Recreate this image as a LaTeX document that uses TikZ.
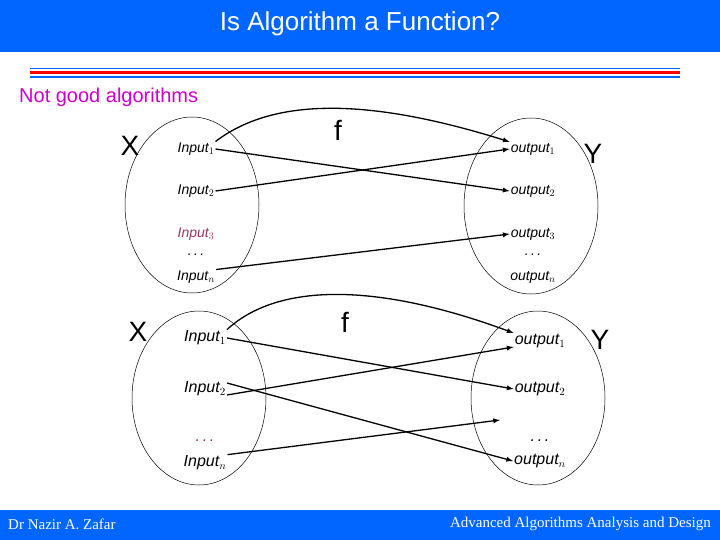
\documentclass[tikz,border=0pt]{standalone}
\usepackage{fontspec}
\setmainfont{Liberation Sans}
\newfontfamily\serif{Liberation Serif}
\definecolor{hdr}{RGB}{0,102,255}
\definecolor{mag}{RGB}{204,0,204}
\definecolor{plum}{RGB}{153,51,102}
\begin{document}
\begin{tikzpicture}[x=1pt,y=-1pt,
 lbl/.style={font=\fontsize{14}{16}\selectfont\itshape, inner sep=1pt},
 lblb/.style={font=\fontsize{16}{18}\selectfont\itshape, inner sep=1pt},
 big/.style={font=\fontsize{28}{30}\selectfont},
 set/.style={draw=black,line width=0.5pt},
 arr/.style={-latex,line width=1.3pt}]
\useasboundingbox (0,0) rectangle (720,540);
\fill[hdr] (0,0) rectangle (720,52);
\node[text=white,font=\fontsize{26}{28}\selectfont] (title) at (360,24) {Is Algorithm a Function?};
\draw[hdr,line width=1.5pt] (30,68.5) -- (680,68.5);
\draw[red,line width=2.5pt] (30,72.5) -- (680,72.5);
\draw[hdr,line width=1.5pt] (30,77) -- (680,77);
\node[text=mag,font=\fontsize{20}{22}\selectfont,anchor=west,inner sep=0] (ng) at (19,97) {Not good algorithms};
\fill[hdr] (0,510) rectangle (720,540);
\node[text=white,font=\serif\fontsize{15}{17}\selectfont,anchor=west,inner sep=0] (ft1) at (8,524) {Dr Nazir A. Zafar};
\node[text=white,font=\serif\fontsize{15}{17}\selectfont,anchor=east,inner sep=0] (ft2) at (711,524) {Advanced Algorithms Analysis and Design};
% top
\draw[set] (192,205) ellipse (67 and 88);
\draw[set] (531,206) ellipse (67 and 88);
\node[big] (X1) at (130,146) {X};
\node[big] (Y1) at (593,154) {Y};
\node[big] (f1) at (338,130) {f};
\node[lbl] (a1) at (196,149) {Input$_1$};
\node[lbl] (a2) at (196,191) {Input$_2$};
\node[lbl,text=plum] (a3) at (196,234) {Input$_3$};
\node[lbl] (ad) at (196,255) {.\,.\,.};
\node[lbl] (an) at (196,277) {Input$_n$};
\node[lbl] (b1) at (533,149) {output$_1$};
\node[lbl] (b2) at (533,191) {output$_2$};
\node[lbl] (b3) at (533,234) {output$_3$};
\node[lbl] (bd) at (533,255) {.\,.\,.};
\node[lbl] (bn) at (533,277) {output$_n$};
\draw[arr] (a1.north east) .. controls (270,100) and (360,95) .. (b1.north west);
\draw[arr] (a1.east) -- (b2.west);
\draw[arr] (a2.east) -- (b1.west);
\draw[arr] (an.north east) -- (b3.west);
% bottom
\draw[set] (199,398) ellipse (67 and 87);
\draw[set] (538,398) ellipse (67 and 87);
\node[big] (X2) at (138,332) {X};
\node[big] (Y2) at (600,340) {Y};
\node[big] (f2) at (345,322) {f};
\node[lblb] (c1) at (205,338) {Input$_1$};
\node[lblb] (c2) at (205,389) {Input$_2$};
\node[lblb,text=plum] (cd) at (205,441) {.\,.\,.};
\node[lblb] (cn) at (205,463) {Input$_n$};
\node[lblb] (d1) at (540,341) {output$_1$};
\node[lblb] (d2) at (540,389) {output$_2$};
\coordinate (d3) at (500,420);
\node[lblb] (dd) at (540,441) {.\,.\,.};
\node[lblb] (dn) at (540,461) {output$_n$};
\draw[arr] (c1.north east) .. controls (275,285) and (370,280) .. (d1.north west);
\draw[arr] (c1.east) -- (d2.west);
\draw[arr] ([yshift=-6pt]c2.east) -- ([yshift=-6pt]d1.west);
\draw[arr] ([yshift=6pt]c2.east) -- (dn.west);
\draw[arr] (cn.north east) -- (d3);
\end{tikzpicture}
\end{document}
